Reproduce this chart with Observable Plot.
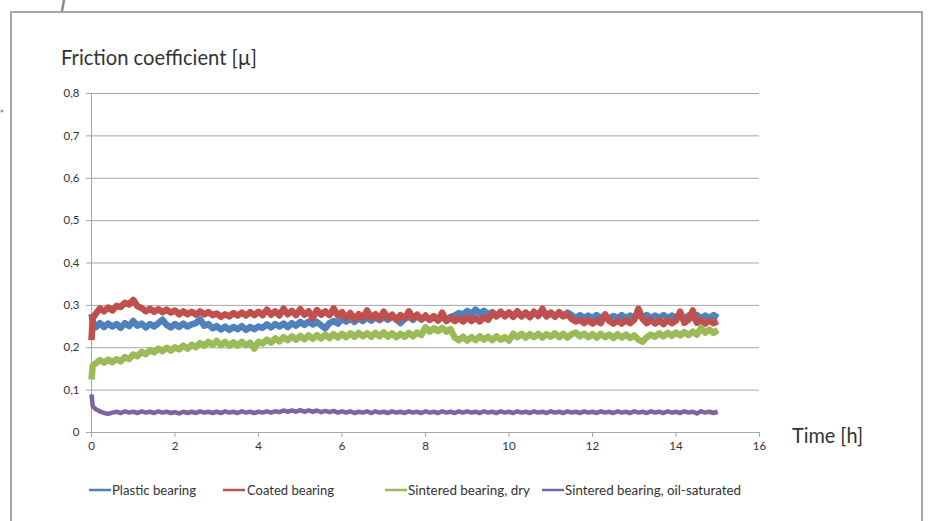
<!DOCTYPE html>
<html>
<head>
<meta charset="utf-8">
<script src="https://cdn.jsdelivr.net/npm/d3@7"></script>
<script src="https://cdn.jsdelivr.net/npm/@observablehq/plot@0.6"></script>
<style>
  html, body { margin: 0; padding: 0; background: #fff; overflow: hidden; }
  #wrap { position: relative; width: 929px; height: 521px; overflow: hidden; }
</style>
</head>
<body>
<div id="wrap"></div>
<script>
// ---- data ----
const times = [0,0.03,
0.1,0.2,0.3,0.4,0.5,0.6,0.7,0.8,0.9,1.0,1.1,1.2,1.3,1.4,1.5,1.6,1.7,1.8,1.9,2.0,
2.1,2.2,2.3,2.4,2.5,2.6,2.7,2.8,2.9,3.0,3.1,3.2,3.3,3.4,3.5,3.6,3.7,3.8,3.9,4.0,
4.1,4.2,4.3,4.4,4.5,4.6,4.7,4.8,4.9,5.0,5.1,5.2,5.3,5.4,5.5,5.6,5.7,5.8,5.9,6.0,
6.1,6.2,6.3,6.4,6.5,6.6,6.7,6.8,6.9,7.0,7.1,7.2,7.3,7.4,7.5,7.6,7.7,7.8,7.9,8.0,
8.1,8.2,8.3,8.4,8.5,8.6,8.7,8.8,8.9,9.0,9.1,9.2,9.3,9.4,9.5,9.6,9.7,9.8,9.9,10.0,
10.1,10.2,10.3,10.4,10.5,10.6,10.7,10.8,10.9,11.0,11.1,11.2,11.3,11.4,11.5,11.6,11.7,11.8,11.9,12.0,
12.1,12.2,12.3,12.4,12.5,12.6,12.7,12.8,12.9,13.0,13.1,13.2,13.3,13.4,13.5,13.6,13.7,13.8,13.9,14.0,
14.1,14.2,14.3,14.4,14.5,14.6,14.7,14.8,14.9,15.0];

const plastic = [0.280,0.262,
0.248,0.258,0.249,0.257,0.250,0.256,0.247,0.258,0.251,0.263,0.252,0.257,0.248,0.256,0.250,0.258,0.266,0.254,0.248,0.256,
0.249,0.257,0.250,0.255,0.258,0.267,0.252,0.256,0.246,0.251,0.243,0.250,0.242,0.249,0.244,0.251,0.242,0.249,0.244,0.250,
0.247,0.255,0.248,0.256,0.250,0.257,0.249,0.258,0.252,0.261,0.254,0.262,0.255,0.261,0.253,0.246,0.258,0.263,0.257,0.268,
0.262,0.269,0.261,0.270,0.263,0.271,0.264,0.272,0.265,0.273,0.266,0.274,0.267,0.258,0.268,0.274,0.266,0.275,0.267,0.273,
0.266,0.274,0.267,0.272,0.265,0.273,0.276,0.282,0.278,0.287,0.280,0.290,0.281,0.287,0.279,0.284,0.275,0.282,0.276,0.283,
0.274,0.281,0.276,0.283,0.275,0.282,0.277,0.284,0.276,0.282,0.275,0.281,0.276,0.283,0.277,0.270,0.277,0.270,0.276,0.269,
0.277,0.270,0.276,0.269,0.275,0.270,0.277,0.269,0.276,0.270,0.278,0.271,0.277,0.269,0.276,0.270,0.277,0.269,0.276,0.270,
0.277,0.268,0.276,0.270,0.277,0.269,0.276,0.270,0.277,0.271];

const coated = [0.218,0.270,
0.280,0.293,0.286,0.295,0.288,0.299,0.296,0.306,0.302,0.313,0.298,0.294,0.286,0.292,0.285,0.291,0.284,0.290,0.283,0.288,
0.279,0.286,0.279,0.285,0.278,0.286,0.279,0.284,0.277,0.281,0.273,0.279,0.274,0.282,0.276,0.283,0.276,0.284,0.277,0.285,
0.277,0.290,0.278,0.286,0.276,0.292,0.279,0.287,0.277,0.291,0.278,0.286,0.270,0.289,0.278,0.286,0.277,0.293,0.276,0.284,
0.270,0.282,0.268,0.279,0.270,0.288,0.271,0.279,0.268,0.285,0.270,0.278,0.266,0.277,0.269,0.286,0.270,0.278,0.267,0.276,
0.266,0.274,0.264,0.283,0.263,0.271,0.263,0.270,0.262,0.271,0.263,0.270,0.262,0.272,0.266,0.282,0.274,0.285,0.274,0.283,
0.273,0.286,0.274,0.282,0.272,0.285,0.275,0.292,0.274,0.283,0.273,0.284,0.274,0.279,0.268,0.262,0.266,0.258,0.265,0.257,
0.264,0.258,0.279,0.263,0.257,0.264,0.257,0.265,0.258,0.266,0.292,0.268,0.258,0.265,0.257,0.264,0.256,0.265,0.258,0.264,
0.285,0.259,0.266,0.288,0.259,0.265,0.257,0.264,0.258,0.263];

const sinteredDry = [0.125,0.158,
0.163,0.171,0.165,0.172,0.166,0.173,0.168,0.178,0.173,0.184,0.180,0.190,0.185,0.194,0.189,0.198,0.192,0.200,0.193,0.201,
0.196,0.205,0.198,0.207,0.201,0.211,0.205,0.214,0.207,0.216,0.206,0.214,0.205,0.213,0.205,0.214,0.206,0.212,0.198,0.214,
0.210,0.219,0.212,0.222,0.215,0.225,0.218,0.227,0.219,0.228,0.220,0.229,0.221,0.230,0.222,0.231,0.223,0.232,0.224,0.233,
0.225,0.234,0.226,0.235,0.227,0.234,0.226,0.235,0.227,0.236,0.226,0.234,0.225,0.233,0.226,0.235,0.227,0.236,0.230,0.248,
0.238,0.246,0.239,0.247,0.238,0.244,0.224,0.218,0.226,0.217,0.225,0.218,0.227,0.219,0.226,0.218,0.227,0.219,0.225,0.217,
0.233,0.225,0.233,0.224,0.232,0.225,0.233,0.224,0.232,0.226,0.234,0.225,0.233,0.224,0.232,0.236,0.227,0.233,0.225,0.232,
0.224,0.233,0.225,0.231,0.223,0.232,0.224,0.231,0.223,0.229,0.219,0.214,0.225,0.231,0.226,0.234,0.227,0.235,0.228,0.236,
0.229,0.237,0.230,0.238,0.231,0.247,0.236,0.243,0.235,0.242];

const sinteredOil = [0.090,0.062,
0.055,0.050,0.046,0.044,0.047,0.049,0.046,0.050,0.047,0.049,0.046,0.050,0.047,0.049,0.046,0.050,0.047,0.049,0.046,0.048,
0.045,0.049,0.046,0.049,0.046,0.050,0.047,0.049,0.046,0.049,0.046,0.050,0.047,0.049,0.046,0.050,0.047,0.049,0.046,0.049,
0.047,0.050,0.047,0.050,0.048,0.052,0.049,0.052,0.049,0.053,0.049,0.052,0.049,0.052,0.048,0.051,0.048,0.051,0.047,0.050,
0.047,0.050,0.046,0.049,0.047,0.050,0.046,0.050,0.047,0.049,0.046,0.050,0.047,0.049,0.046,0.050,0.047,0.049,0.046,0.050,
0.047,0.049,0.046,0.050,0.047,0.049,0.046,0.050,0.047,0.050,0.047,0.049,0.046,0.050,0.047,0.049,0.046,0.050,0.047,0.049,
0.046,0.050,0.047,0.049,0.046,0.050,0.047,0.049,0.046,0.050,0.047,0.049,0.046,0.050,0.047,0.049,0.046,0.050,0.047,0.049,
0.046,0.050,0.047,0.049,0.046,0.050,0.047,0.049,0.046,0.050,0.047,0.049,0.046,0.050,0.047,0.049,0.046,0.050,0.047,0.049,
0.046,0.050,0.047,0.049,0.045,0.050,0.047,0.049,0.046,0.049];

const seriesNames = ["Plastic bearing", "Coated bearing", "Sintered bearing, dry", "Sintered bearing, oil-saturated"];
const seriesColors = ["#4f81bd", "#c0504d", "#9bbb59", "#8064a2"];
const yTicks = [0, 0.1, 0.2, 0.3, 0.4, 0.5, 0.6, 0.7, 0.8];
const xTicks = [0, 2, 4, 6, 8, 10, 12, 14, 16];
const yTitle = "Friction coefficient [µ]";
const xTitle = "Time [h]";

// ---- build tables ----
const seriesValues = [plastic, coated, sinteredDry, sinteredOil];
const tables = seriesValues.map((vals, k) => vals.map((v, i) => ({t: times[i], v, series: seriesNames[k]})));

const gridColor = "#a6a6a6";
const textColor = "#333333";
const font = "Lato, 'Open Sans', sans-serif";

const chart = Plot.plot({
  width: 929,
  height: 521,
  marginLeft: 91,
  marginRight: 170,
  marginTop: 93,
  marginBottom: 89,
  x: {domain: [0, 16]},
  y: {domain: [0, 0.8]},
  style: {fontFamily: font, fontSize: "11.5px", color: textColor, background: "transparent", overflow: "visible"},
  marks: [
    Plot.gridY(yTicks, {stroke: gridColor, strokeOpacity: 1, strokeWidth: 1}),
    Plot.ruleX([0], {stroke: gridColor, strokeWidth: 1}),
    Plot.axisY(yTicks, {tickSize: 5, tickPadding: 7, stroke: gridColor, label: null,
      tickFormat: d => d === 0 ? "0" : d3.format(".1f")(d).replace(".", ",")}),
    Plot.axisX(xTicks, {tickSize: 5, tickPadding: 4, stroke: gridColor, label: null, tickFormat: d => String(d)}),
    ...tables.map((tab, k) => Plot.lineY(tab, {
      x: "t", y: "v",
      stroke: seriesColors[k],
      strokeWidth: k === 3 ? 4.5 : 6.5,
      strokeLinejoin: "round",
      strokeLinecap: "butt"
    }))
  ]
});

const wrap = document.getElementById("wrap");
wrap.appendChild(chart);
chart.style.position = "absolute";
chart.style.left = "0px";
chart.style.top = "0px";

// ---- decorations: frame, titles, legend ----
const svg = d3.select(chart);
const deco = svg.append("g").attr("font-family", font).attr("fill", textColor).attr("text-anchor", "start");

// outer frame
deco.append("rect")
  .attr("x", 11).attr("y", 12).attr("width", 911).attr("height", 620)
  .attr("fill", "none").attr("stroke", gridColor).attr("stroke-width", 2);
// small marks at the page edge
deco.append("line").attr("x1", 64).attr("y1", 0).attr("x2", 62).attr("y2", 11)
  .attr("stroke", "#8a8a8a").attr("stroke-width", 2.5);
deco.append("circle").attr("cx", 2).attr("cy", 111).attr("r", 1.5).attr("fill", "#999");

deco.append("text")
  .attr("x", 61).attr("y", 65)
  .attr("text-anchor", "start")
  .attr("font-size", 21.5)
  .attr("textLength", 196).attr("lengthAdjust", "spacingAndGlyphs")
  .text(yTitle);

deco.append("text")
  .attr("x", 792).attr("y", 443)
  .attr("text-anchor", "start")
  .attr("font-size", 21.5)
  .attr("textLength", 71).attr("lengthAdjust", "spacingAndGlyphs")
  .text(xTitle);

const legendLineX = [89, 223, 385, 542];
const legendTextX = [112, 247, 408, 565];
const legendTextW = [84, 87, 122, 176];
seriesNames.forEach((name, k) => {
  deco.append("line")
    .attr("x1", legendLineX[k]).attr("x2", legendLineX[k] + 22)
    .attr("y1", 490).attr("y2", 490)
    .attr("stroke", seriesColors[k]).attr("stroke-width", 2.5);
  deco.append("text")
    .attr("x", legendTextX[k]).attr("y", 494.5)
    .attr("text-anchor", "start")
    .attr("font-size", 12.5)
    .attr("textLength", legendTextW[k]).attr("lengthAdjust", "spacingAndGlyphs")
    .text(name);
});
</script>
</body>
</html>
